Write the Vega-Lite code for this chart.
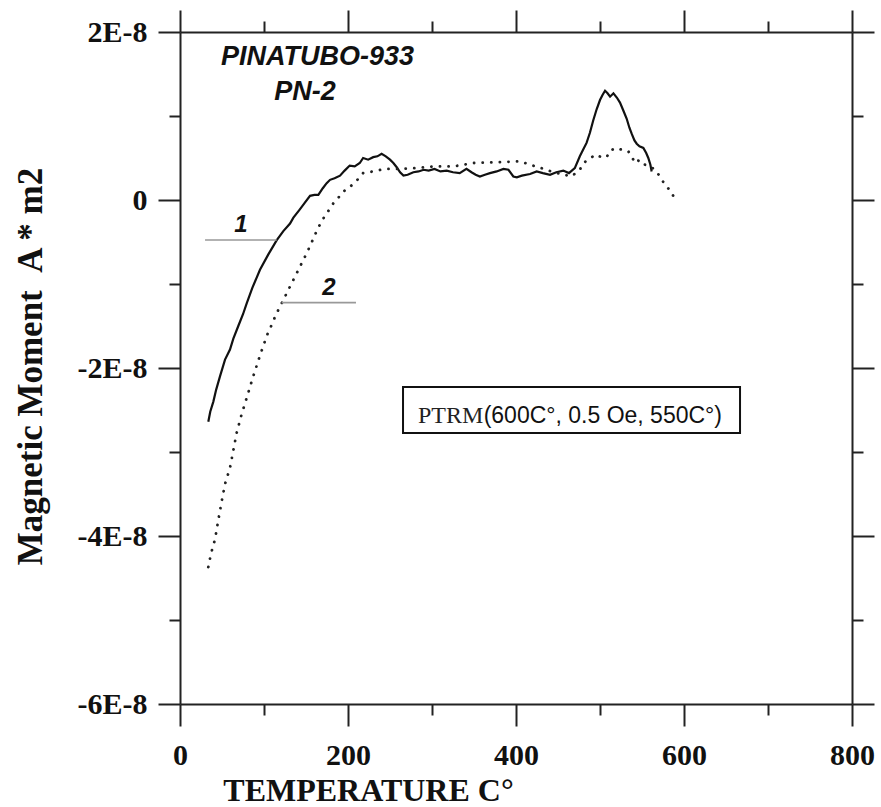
{
  "$schema": "https://vega.github.io/schema/vega-lite/v6.json",
  "width": 672,
  "height": 672,
  "autosize": {"type": "none"},
  "padding": {"left": 180, "top": 32, "right": 29, "bottom": 103},
  "background": "white",
  "config": {
    "view": {"stroke": null},
    "axis": {"grid": false, "domainColor": "#222", "domainWidth": 2, "tickColor": "#222", "tickWidth": 2}
  },
  "datasets": {
    "c1": [
      {"t": 33.7, "m": -2.64e-8}, {"t": 36, "m": -2.52e-8}, {"t": 39.7, "m": -2.40e-8}, {"t": 43, "m": -2.26e-8},
      {"t": 47.6, "m": -2.10e-8}, {"t": 53.6, "m": -1.90e-8}, {"t": 59.5, "m": -1.78e-8}, {"t": 63.5, "m": -1.65e-8},
      {"t": 69.4, "m": -1.50e-8}, {"t": 75, "m": -1.36e-8}, {"t": 79.4, "m": -1.23e-8}, {"t": 86, "m": -1.05e-8},
      {"t": 95.2, "m": -0.83e-8}, {"t": 105, "m": -0.65e-8}, {"t": 115, "m": -0.48e-8}, {"t": 123, "m": -0.37e-8},
      {"t": 131, "m": -0.28e-8}, {"t": 135, "m": -0.21e-8}, {"t": 142, "m": -0.12e-8}, {"t": 148, "m": -0.04e-8},
      {"t": 154.8, "m": 0.05e-8}, {"t": 160, "m": 0.06e-8}, {"t": 164.7, "m": 0.06e-8}, {"t": 170, "m": 0.14e-8},
      {"t": 174.6, "m": 0.20e-8}, {"t": 178.6, "m": 0.24e-8}, {"t": 184, "m": 0.26e-8}, {"t": 190.5, "m": 0.29e-8},
      {"t": 196, "m": 0.35e-8}, {"t": 202, "m": 0.41e-8}, {"t": 208, "m": 0.40e-8}, {"t": 214, "m": 0.44e-8},
      {"t": 218, "m": 0.50e-8}, {"t": 224, "m": 0.48e-8}, {"t": 230, "m": 0.51e-8}, {"t": 235, "m": 0.52e-8},
      {"t": 240, "m": 0.55e-8}, {"t": 245, "m": 0.52e-8}, {"t": 250, "m": 0.48e-8}, {"t": 254, "m": 0.44e-8},
      {"t": 258, "m": 0.39e-8}, {"t": 262, "m": 0.33e-8}, {"t": 266, "m": 0.29e-8}, {"t": 271, "m": 0.30e-8},
      {"t": 277.8, "m": 0.33e-8}, {"t": 284, "m": 0.34e-8}, {"t": 290, "m": 0.36e-8}, {"t": 296, "m": 0.35e-8},
      {"t": 303, "m": 0.37e-8}, {"t": 310, "m": 0.34e-8}, {"t": 317.5, "m": 0.35e-8}, {"t": 325, "m": 0.33e-8},
      {"t": 333, "m": 0.32e-8}, {"t": 341, "m": 0.37e-8}, {"t": 347, "m": 0.33e-8}, {"t": 352, "m": 0.30e-8},
      {"t": 357, "m": 0.28e-8}, {"t": 363, "m": 0.30e-8}, {"t": 369, "m": 0.32e-8}, {"t": 377, "m": 0.34e-8},
      {"t": 385, "m": 0.37e-8}, {"t": 391, "m": 0.36e-8}, {"t": 396.8, "m": 0.28e-8}, {"t": 401, "m": 0.27e-8},
      {"t": 407, "m": 0.29e-8}, {"t": 416.7, "m": 0.31e-8}, {"t": 424.6, "m": 0.34e-8}, {"t": 432, "m": 0.32e-8},
      {"t": 440.5, "m": 0.30e-8}, {"t": 448, "m": 0.33e-8}, {"t": 456.3, "m": 0.35e-8}, {"t": 463, "m": 0.32e-8},
      {"t": 470, "m": 0.38e-8}, {"t": 476, "m": 0.52e-8}, {"t": 480, "m": 0.60e-8}, {"t": 484, "m": 0.68e-8},
      {"t": 488, "m": 0.80e-8}, {"t": 492, "m": 0.95e-8}, {"t": 496, "m": 1.08e-8}, {"t": 500, "m": 1.19e-8},
      {"t": 503, "m": 1.25e-8}, {"t": 506, "m": 1.30e-8}, {"t": 509, "m": 1.27e-8}, {"t": 512, "m": 1.23e-8},
      {"t": 516, "m": 1.27e-8}, {"t": 520, "m": 1.22e-8}, {"t": 523.8, "m": 1.16e-8}, {"t": 528, "m": 1.06e-8},
      {"t": 531.7, "m": 0.97e-8}, {"t": 535, "m": 0.86e-8}, {"t": 537.7, "m": 0.79e-8}, {"t": 541, "m": 0.71e-8},
      {"t": 543.7, "m": 0.67e-8}, {"t": 547, "m": 0.64e-8}, {"t": 551.6, "m": 0.62e-8}, {"t": 555, "m": 0.56e-8},
      {"t": 557.5, "m": 0.50e-8}, {"t": 560, "m": 0.42e-8}, {"t": 561.5, "m": 0.34e-8}
    ],
    "c2": [
      {"t": 33.7, "m": -4.37e-8}, {"t": 35.7, "m": -4.27e-8}, {"t": 38.5, "m": -4.15e-8}, {"t": 41.7, "m": -4.04e-8},
      {"t": 45.6, "m": -3.81e-8}, {"t": 49.6, "m": -3.59e-8}, {"t": 53.6, "m": -3.38e-8}, {"t": 59.5, "m": -3.19e-8},
      {"t": 63.5, "m": -2.98e-8}, {"t": 67.5, "m": -2.77e-8}, {"t": 73.4, "m": -2.55e-8}, {"t": 80.2, "m": -2.33e-8},
      {"t": 86.5, "m": -2.12e-8}, {"t": 93.3, "m": -1.91e-8}, {"t": 99, "m": -1.74e-8}, {"t": 104, "m": -1.60e-8},
      {"t": 109, "m": -1.49e-8}, {"t": 114, "m": -1.37e-8}, {"t": 119, "m": -1.27e-8}, {"t": 125, "m": -1.15e-8},
      {"t": 131, "m": -1.03e-8}, {"t": 139, "m": -0.87e-8}, {"t": 145, "m": -0.75e-8}, {"t": 151, "m": -0.63e-8},
      {"t": 158.7, "m": -0.46e-8}, {"t": 164, "m": -0.34e-8}, {"t": 170.6, "m": -0.22e-8}, {"t": 176, "m": -0.14e-8},
      {"t": 182.5, "m": -0.04e-8}, {"t": 188, "m": 0.02e-8}, {"t": 194.4, "m": 0.10e-8}, {"t": 200.4, "m": 0.14e-8},
      {"t": 205, "m": 0.18e-8}, {"t": 210.3, "m": 0.23e-8}, {"t": 218, "m": 0.32e-8}, {"t": 230, "m": 0.34e-8},
      {"t": 244, "m": 0.37e-8}, {"t": 262, "m": 0.37e-8}, {"t": 281.7, "m": 0.38e-8}, {"t": 301.6, "m": 0.40e-8},
      {"t": 325.4, "m": 0.40e-8}, {"t": 349, "m": 0.44e-8}, {"t": 377, "m": 0.45e-8}, {"t": 405, "m": 0.46e-8},
      {"t": 416.7, "m": 0.42e-8}, {"t": 430, "m": 0.38e-8}, {"t": 445, "m": 0.33e-8}, {"t": 458, "m": 0.30e-8},
      {"t": 466, "m": 0.28e-8}, {"t": 476, "m": 0.36e-8}, {"t": 480, "m": 0.44e-8}, {"t": 488, "m": 0.49e-8},
      {"t": 494, "m": 0.54e-8}, {"t": 502, "m": 0.51e-8}, {"t": 508, "m": 0.51e-8}, {"t": 512, "m": 0.59e-8},
      {"t": 520, "m": 0.62e-8}, {"t": 527.8, "m": 0.59e-8}, {"t": 533.7, "m": 0.58e-8}, {"t": 539.7, "m": 0.48e-8},
      {"t": 543.7, "m": 0.51e-8}, {"t": 547.6, "m": 0.43e-8}, {"t": 553.6, "m": 0.42e-8}, {"t": 559.5, "m": 0.40e-8},
      {"t": 565.5, "m": 0.36e-8}, {"t": 571.4, "m": 0.28e-8}, {"t": 577.4, "m": 0.18e-8}, {"t": 583, "m": 0.12e-8},
      {"t": 591.3, "m": -0.02e-8}
    ],
    "leaders": [
      {"t1": 29.8, "t2": 115.1, "m": -0.476e-8},
      {"t1": 121, "t2": 209.5, "m": -1.222e-8}
    ],
    "titles": [
      {"t": 163.7, "m": 1.607e-8, "text": "PINATUBO-933"},
      {"t": 148.8, "m": 1.19e-8, "text": "PN-2"}
    ],
    "nums": [
      {"t": 72.6, "m": -0.381e-8, "text": "1"},
      {"t": 177.4, "m": -1.131e-8, "text": "2"}
    ],
    "box": [
      {"t1": 265.5, "t2": 666.7, "m1": -2.226e-8, "m2": -2.774e-8}
    ],
    "boxtext1": [{"t": 283.3, "m": -2.655e-8, "text": "PTRM"}],
    "boxtext2": [{"t": 361.5, "m": -2.655e-8, "text": "(600C°, 0.5 Oe, 550C°)"}]
  },
  "layer": [
    {
      "data": {"name": "c1"},
      "mark": {"type": "line", "color": "#111", "strokeWidth": 2.2},
      "encoding": {
        "x": {
          "field": "t", "type": "quantitative",
          "scale": {"domain": [0, 800], "nice": false, "zero": false},
          "axis": {
            "orient": "bottom",
            "values": [0, 100, 200, 300, 400, 500, 600, 700, 800],
            "labelExpr": "datum.value % 200 === 0 ? datum.label : ''",
            "tickSize": {"condition": {"test": "datum.value % 200 === 0", "value": 22}, "value": 11},
            "labelFont": "Liberation Serif", "labelFontWeight": "bold", "labelFontSize": 30, "labelColor": "#111",
            "labelPadding": 14, "labelFlush": false, "labelOverlap": false,
            "title": "TEMPERATURE C°", "titleFont": "Liberation Serif", "titleFontWeight": "bold", "titleFontSize": 32,
            "titleColor": "#111", "titleX": 188, "titleY": 96, "titleBaseline": "alphabetic", "titleAlign": "center", "titleAnchor": null
          }
        },
        "y": {
          "field": "m", "type": "quantitative",
          "scale": {"domain": [-6e-8, 2e-8], "nice": false, "zero": false},
          "axis": {
            "orient": "left",
            "values": [-6e-8, -5e-8, -4e-8, -3e-8, -2e-8, -1e-8, 0, 1e-8, 2e-8],
            "labelExpr": "abs(round(datum.value*1e8)) % 2 === 0 ? (round(datum.value*1e8) === 0 ? '0' : round(datum.value*1e8) + 'E-8') : ''",
            "tickSize": {"condition": {"test": "abs(round(datum.value*1e8)) % 2 === 0", "value": 22}, "value": 11},
            "labelFont": "Liberation Serif", "labelFontWeight": "bold", "labelFontSize": 30, "labelColor": "#111",
            "labelPadding": 11, "labelFlush": false, "labelOverlap": false,
            "title": "Magnetic Moment\u00a0\u00a0A * m2", "titleFont": "Liberation Serif", "titleFontWeight": "bold", "titleFontSize": 35,
            "titleColor": "#111", "titleX": -150, "titleY": 334, "titleAngle": -90, "titleBaseline": "middle", "titleAlign": "center", "titleAnchor": null
          }
        }
      }
    },
    {
      "data": {"name": "c2"},
      "mark": {"type": "line", "color": "#222", "strokeWidth": 2.8, "strokeDash": [0.1, 8.5], "strokeCap": "round"},
      "encoding": {
        "x": {
          "field": "t", "type": "quantitative",
          "scale": {"domain": [0, 800], "nice": false, "zero": false},
          "axis": {
            "orient": "top",
            "values": [0, 100, 200, 300, 400, 500, 600, 700, 800],
            "labels": false, "title": null,
            "tickSize": {"condition": {"test": "datum.value % 200 === 0", "value": 22}, "value": 11}
          }
        },
        "y": {
          "field": "m", "type": "quantitative",
          "scale": {"domain": [-6e-8, 2e-8], "nice": false, "zero": false},
          "axis": {
            "orient": "right",
            "values": [-6e-8, -5e-8, -4e-8, -3e-8, -2e-8, -1e-8, 0, 1e-8, 2e-8],
            "labels": false, "title": null,
            "tickSize": {"condition": {"test": "abs(round(datum.value*1e8)) % 2 === 0", "value": 22}, "value": 11}
          }
        }
      }
    },
    {
      "data": {"name": "leaders"},
      "mark": {"type": "rule", "color": "#999", "strokeWidth": 1.6},
      "encoding": {
        "x": {"field": "t1", "type": "quantitative", "scale": {"domain": [0, 800], "nice": false, "zero": false}, "axis": null},
        "x2": {"field": "t2"},
        "y": {"field": "m", "type": "quantitative", "scale": {"domain": [-6e-8, 2e-8], "nice": false, "zero": false}, "axis": null}
      }
    },
    {
      "data": {"name": "box"},
      "mark": {"type": "rect", "fill": "white", "fillOpacity": 0, "stroke": "#111", "strokeWidth": 2},
      "encoding": {
        "x": {"field": "t1", "type": "quantitative", "scale": {"domain": [0, 800], "nice": false, "zero": false}, "axis": null},
        "x2": {"field": "t2"},
        "y": {"field": "m1", "type": "quantitative", "scale": {"domain": [-6e-8, 2e-8], "nice": false, "zero": false}, "axis": null},
        "y2": {"field": "m2"}
      }
    },
    {
      "data": {"name": "titles"},
      "mark": {"type": "text", "font": "Liberation Sans", "fontWeight": "bold", "fontStyle": "italic", "fontSize": 27, "color": "#111", "align": "center", "baseline": "alphabetic"},
      "encoding": {
        "x": {"field": "t", "type": "quantitative", "scale": {"domain": [0, 800], "nice": false, "zero": false}, "axis": null},
        "y": {"field": "m", "type": "quantitative", "scale": {"domain": [-6e-8, 2e-8], "nice": false, "zero": false}, "axis": null},
        "text": {"field": "text"}
      }
    },
    {
      "data": {"name": "nums"},
      "mark": {"type": "text", "font": "Liberation Sans", "fontWeight": "bold", "fontStyle": "italic", "fontSize": 24, "color": "#111", "align": "center", "baseline": "alphabetic"},
      "encoding": {
        "x": {"field": "t", "type": "quantitative", "scale": {"domain": [0, 800], "nice": false, "zero": false}, "axis": null},
        "y": {"field": "m", "type": "quantitative", "scale": {"domain": [-6e-8, 2e-8], "nice": false, "zero": false}, "axis": null},
        "text": {"field": "text"}
      }
    },
    {
      "data": {"name": "boxtext1"},
      "mark": {"type": "text", "font": "Liberation Serif", "fontSize": 24, "color": "#222", "align": "left", "baseline": "alphabetic"},
      "encoding": {
        "x": {"field": "t", "type": "quantitative", "scale": {"domain": [0, 800], "nice": false, "zero": false}, "axis": null},
        "y": {"field": "m", "type": "quantitative", "scale": {"domain": [-6e-8, 2e-8], "nice": false, "zero": false}, "axis": null},
        "text": {"field": "text"}
      }
    },
    {
      "data": {"name": "boxtext2"},
      "mark": {"type": "text", "font": "Liberation Sans", "fontSize": 23, "color": "#111", "align": "left", "baseline": "alphabetic"},
      "encoding": {
        "x": {"field": "t", "type": "quantitative", "scale": {"domain": [0, 800], "nice": false, "zero": false}, "axis": null},
        "y": {"field": "m", "type": "quantitative", "scale": {"domain": [-6e-8, 2e-8], "nice": false, "zero": false}, "axis": null},
        "text": {"field": "text"}
      }
    }
  ],
  "resolve": {"axis": {"x": "independent", "y": "independent"}}
}
